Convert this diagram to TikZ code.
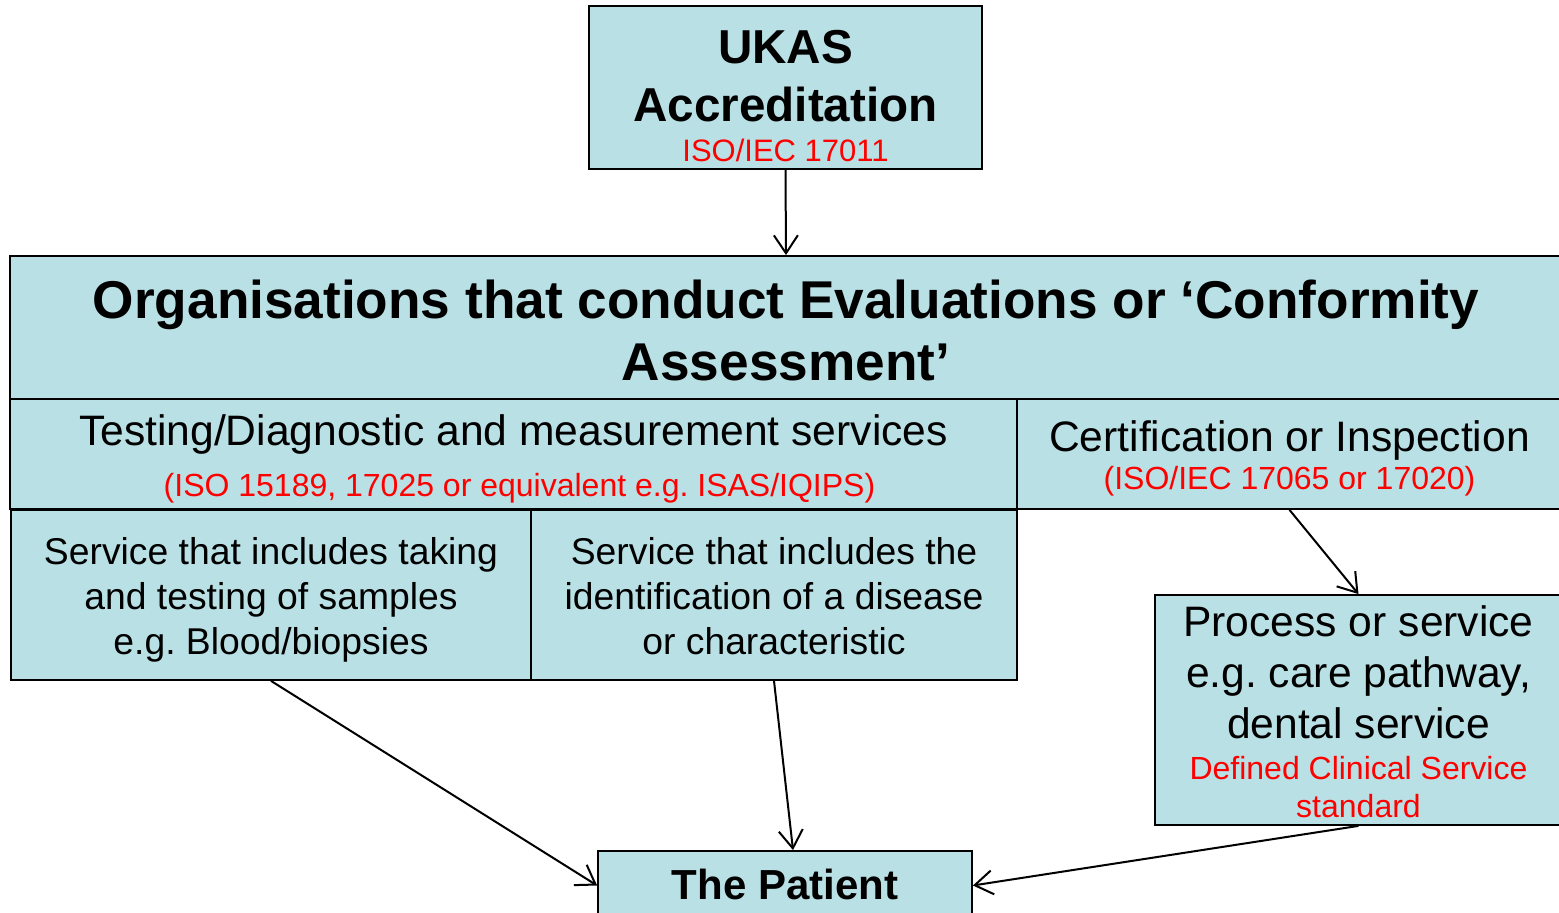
\documentclass[tikz,border=0pt]{standalone}
\usepackage{fontspec}
\setmainfont{Liberation Sans}
\usetikzlibrary{arrows.meta}
\definecolor{BoxFill}{HTML}{B9E0E4}
\definecolor{StdRed}{HTML}{FF0000}
\frenchspacing

\begin{document}
\begin{tikzpicture}[
    x=0.5pt, y=-0.5pt,
    box/.style={draw=black, line width=0.9pt, fill=BoxFill, align=center, inner sep=0pt},
    arr/.style={-{Straight Barb[length=9pt,width=12pt]}, line width=1pt, black}
 ]
\def\redstd#1{{\fontsize{16}{19}\selectfont\color{StdRed}#1}}
\def\bigfont{\fontsize{21.3}{25.5}\selectfont}
\def\smallfont{\fontsize{18.65}{22.5}\selectfont}

\useasboundingbox (0,0) rectangle (1559,913);
\clip (0,0) rectangle (1559,913);

% accreditation body
\node[box, minimum width=196.5pt, minimum height=81.5pt, text height=74.5pt, text depth=0pt,
      font=\fontsize{23.8}{29}\selectfont\bfseries] (ukas) at (785.5,87.5)
    {UKAS\\Accreditation\\[-9pt]{\mdseries\fontsize{15.5}{18}\selectfont\color{StdRed}ISO/IEC 17011}};

% conformity assessment bodies
\node[box, minimum width=776pt, minimum height=71.5pt, text height=53.5pt, text depth=0pt,
      font=\fontsize{26.6}{31}\selectfont\bfseries] (org) at (786,327.5)
    {Organisations that conduct Evaluations or ‘Conformity\\Assessment’};
\node[box, minimum width=503.5pt, minimum height=55pt, text height=43pt, text depth=0pt,
      font=\bigfont] (testing) at (513.5,454)
    {Testing/Diagnostic and measurement services\\\redstd{\hspace*{6pt}(ISO 15189, 17025 or equivalent e.g. ISAS/IQIPS)}};
\node[box, minimum width=272.5pt, minimum height=55pt, text height=36pt, text depth=0pt,
      font=\bigfont] (cert) at (1289.5,454)
    {Certification or Inspection\\[-6.5pt]\redstd{(ISO/IEC 17065 or 17020)}};

% services
\node[box, minimum width=260pt, minimum height=85pt, text height=60pt, text depth=0pt,
      font=\smallfont] (sample) at (271,595)
    {Service that includes taking\\and testing of samples\\e.g. Blood/biopsies};
\node[box, minimum width=243pt, minimum height=85pt, text height=60pt, text depth=0pt,
      font=\smallfont] (ident) at (774,595)
    {Service that includes the\\identification of a disease\\or characteristic};
\node[box, minimum width=203.5pt, minimum height=115pt, text height=108pt, text depth=0pt,
      font=\bigfont] (process) at (1358.5,710)
    {Process or service\\e.g. care pathway,\\dental service\\[-5pt]\redstd{Defined Clinical Service}\\[-6.5pt]\redstd{standard}};

\node[box, minimum width=187pt, minimum height=34.5pt, text height=18pt, text depth=3.5pt,
      font=\fontsize{21}{25.5}\selectfont\bfseries] (patient) at (785,885.5) {The Patient};

\foreach \src/\dst in {ukas.south/org.north, cert.south/process.north,
                       sample.south/patient.west, process.south/patient.east}
    \draw[arr] (\src) -- (\dst);
\draw[arr] (ident.south) -- ([xshift=4pt]patient.north);

\end{tikzpicture}
\end{document}
